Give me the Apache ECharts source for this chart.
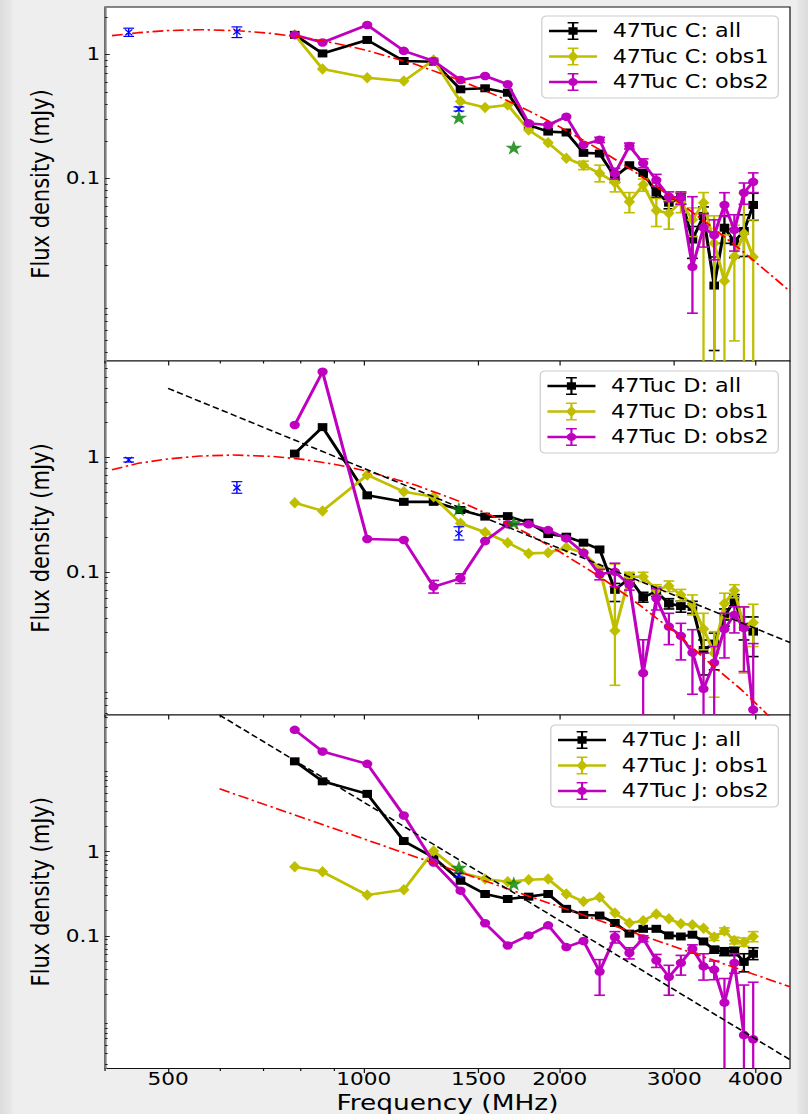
<!DOCTYPE html>
<html><head><meta charset="utf-8">
<script src="https://cdn.jsdelivr.net/npm/echarts@6/dist/echarts.min.js"></script>
<style>
html,body{margin:0;padding:0;width:808px;height:1114px;overflow:hidden;background:#ececec;}
body{background:linear-gradient(to right,#dcdcdc 0px,#e6e6e6 10px,#eeeeee 14px,#eeeeee 796px,#e4e4e4 800px,#dcdcdc 808px);}
#wrap{position:absolute;left:0;top:0;width:673px;height:1114px;transform:scaleX(1.200594);transform-origin:0 0;}
</style></head><body><div id="wrap"></div>
<script>
// ---------------- data ----------------
const FREQ = [783, 864, 1012, 1152, 1280, 1408, 1536, 1664, 1792, 1920, 2048, 2176, 2304, 2432, 2560, 2688, 2816, 2944, 3072, 3200, 3328, 3456, 3584, 3712, 3840, 3968];

const C_ALL  = [1.44, 1.02, 1.31, 0.886, 0.875, 0.524, 0.534, 0.492, 0.27, 0.239, 0.235, 0.161, 0.159, 0.103, 0.128, 0.111, 0.077, 0.0638, 0.0693, 0.0322, 0.0499, 0.0137, 0.0401, 0.031, 0.0377, 0.0612];
const C_OBS1 = [1.44, 0.764, 0.65, 0.61, 0.903, 0.417, 0.373, 0.392, 0.246, 0.194, 0.146, 0.128, 0.110, 0.0928, 0.0648, 0.089, 0.0551, 0.0524, 0.0648, 0.0464, 0.0637, 0.03, 0.0149, 0.0235, 0.036, 0.0233];
const C_OBS2 = [1.44, 1.25, 1.73, 1.07, 0.886, 0.623, 0.671, 0.575, 0.279, 0.27, 0.315, 0.187, 0.205, 0.110, 0.183, 0.133, 0.097, 0.0713, 0.070, 0.0194, 0.0401, 0.035, 0.0612, 0.0385, 0.0768, 0.094];
const C_ALL_ERR  = [null,null,null,null,null,null,null,null,null,null,null,null,null,[0.093,0.113],null,null,[0.070,0.084],[0.057,0.071],[0.062,0.076],[0.0227,0.041],[0.041,0.059],[0.0041,0.0233],[0.030,0.050],[0.023,0.039],[0.0235,0.051],[0.046,0.076]];
const C_OBS1_ERR = [null,null,null,null,null,null,null,null,null,null,null,[0.118,0.138],[0.094,0.128],[0.078,0.108],[0.053,0.077],[0.079,0.099],[0.041,0.069],[0.039,0.066],[0.053,0.077],[0.034,0.058],[0,0.077],[0,0.05],[0,0.035],[0.0049,0.042],[0,0.076],[0,0.0464]];
const C_OBS2_ERR = [null,null,null,null,null,null,null,null,null,null,null,null,[0.195,0.215],[0.099,0.121],[0.173,0.193],[0.122,0.144],[0.087,0.108],[0.065,0.078],[0.062,0.078],[0.0082,0.0713],[0.028,0.052],[0.0221,0.0464],[0.0494,0.0768],[0.026,0.051],[0.062,0.092],[0.077,0.111]];

const D_ALL  = [1.077, 1.83, 0.467, 0.41, 0.41, 0.348, 0.305, 0.308, 0.27, 0.215, 0.204, 0.181, 0.158, 0.0704, 0.0888, 0.0608, 0.068, 0.0535, 0.0508, 0.05, 0.0211, 0.024, 0.041, 0.0575, 0.0336, 0.0305];
const D_OBS1 = [0.403, 0.342, 0.702, 0.502, 0.454, 0.267, 0.223, 0.181, 0.146, 0.148, 0.164, 0.148, 0.108, 0.031, 0.0915, 0.0915, 0.0703, 0.0761, 0.0636, 0.0523, 0.0321, 0.0198, 0.0535, 0.0694, 0.0336, 0.0364];
const D_OBS2 = [1.91, 5.55, 0.195, 0.191, 0.075, 0.0886, 0.187, 0.262, 0.262, 0.233, 0.197, 0.148, 0.096, 0.101, 0.078, 0.0133, 0.0595, 0.0337, 0.028, 0.02, 0.0097, 0.0164, 0.0321, 0.0426, 0.0328, 0.0064];
const D_ALL_ERR  = [null,null,null,null,null,null,null,null,null,null,null,null,null,[0.0557,0.080],[0.082,0.096],[0.055,0.067],[0.062,0.074],[0.048,0.059],[0.045,0.056],[0.044,0.056],[0.0128,0.0258],[0.0142,0.0296],[0.034,0.048],[0.051,0.064],[0.0258,0.0409],[0.0185,0.0409]];
const D_OBS1_ERR = [null,null,null,null,null,null,null,null,null,null,null,null,null,[0.0104,0.118],[0.083,0.10],[0.083,0.10],[0.063,0.078],[0.068,0.084],[0.056,0.071],[0.0426,0.0636],[0.0212,0.044],[0.0082,0.0305],[0.0398,0.0658],[0.06,0.078],[0.0133,0.0501],[0.0226,0.0528]];
const D_OBS2_ERR = [null,null,null,null,[0.066,0.085],[0.08,0.097],null,null,null,null,null,null,[0.086,0.106],[0.075,0.120],[0.07,0.086],[0,0.0259],[0.047,0.072],[0.0235,0.044],[0.0173,0.036],[0.0087,0.0317],[0,0.0198],[0,0.0226],[0.018,0.044],[0.0297,0.0501],[0.0137,0.050],[0,0.024]];

const J_ALL  = [11.9, 6.88, 4.88, 1.34, 0.854, 0.451, 0.314, 0.274, 0.292, 0.314, 0.209, 0.177, 0.174, 0.142, 0.106, 0.121, 0.121, 0.101, 0.098, 0.103, 0.0856, 0.0682, 0.065, 0.0658, 0.0489, 0.0611];
const J_OBS1 = [0.661, 0.577, 0.305, 0.352, 1.02, 0.567, 0.473, 0.439, 0.464, 0.473, 0.314, 0.255, 0.287, 0.187, 0.142, 0.151, 0.182, 0.159, 0.139, 0.135, 0.123, 0.0966, 0.114, 0.0876, 0.084, 0.0981];
const J_OBS2 = [28.2, 15.6, 11.1, 2.7, 0.745, 0.344, 0.141, 0.0767, 0.101, 0.133, 0.0733, 0.0866, 0.0375, 0.0966, 0.0624, 0.0925, 0.051, 0.0324, 0.0475, 0.070, 0.0433, 0.0396, 0.016, 0.0475, 0.00659, 0.00587];
const J_ALL_ERR  = [null,null,null,null,null,null,null,null,null,null,null,null,null,null,null,null,null,null,null,null,null,[0.062,0.075],[0.058,0.072],[0.058,0.073],[0.0372,0.0611],[0.052,0.072]];
const J_OBS1_ERR = [null,null,null,null,null,null,null,null,null,null,null,null,null,null,null,null,null,null,null,null,null,[0.088,0.105],[0.105,0.124],[0.08,0.096],[0.075,0.094],[0.085,0.112]];
const J_OBS2_ERR = [null,null,null,null,null,null,null,null,null,null,null,null,[0.0196,0.052],[0.082,0.112],[0.053,0.072],[0.085,0.10],[0.042,0.06],[0.0196,0.0445],[0.034,0.0584],[0.062,0.078],[0.0297,0.061],[0.03,0.05],[0,0.031],[0.0358,0.0611],[0,0.0259],[0,0.028]];

// fitted model curves
const RED_C_FREQ = [410, 450, 500, 560, 640, 720, 800, 900, 1000, 1200, 1400, 1600, 1800, 2000, 2300, 2600, 3000, 3400, 3800, 4200, 4520];
const RED_C_VAL  = [1.42, 1.50, 1.56, 1.585, 1.556, 1.48, 1.38, 1.237, 1.094, 0.833, 0.624, 0.466, 0.348, 0.261, 0.172, 0.1146, 0.0686, 0.0421, 0.0265, 0.0171, 0.0123];
const RED_D_FREQ = [410, 450, 500, 560, 630, 720, 800, 900, 1000, 1200, 1400, 1600, 1800, 2000, 2300, 2600, 3000, 3400, 3800, 4100, 4520];
const RED_D_VAL  = [0.78, 0.887, 0.968, 1.026, 1.047, 1.02, 0.965, 0.872, 0.769, 0.574, 0.416, 0.297, 0.212, 0.151, 0.0925, 0.0568, 0.0304, 0.0163, 0.0096, 0.0064, 0.0036];
const DASH_D_FREQ = [500, 4520];
const DASH_D_VAL  = [3.98, 0.0245];
const RED_J_FREQ = [600, 4520];
const RED_J_VAL  = [5.6, 0.0247];
const DASH_J_FREQ = [600, 4520];
const DASH_J_VAL  = [42.3, 0.00335];

// literature points (blue crosses with error bars) and green stars
const BLUE_C_FREQ = [435, 638, 1400], BLUE_C_VAL = [1.51, 1.53, 0.363], BLUE_C_LO = [1.40, 1.37, 0.35], BLUE_C_HI = [1.63, 1.67, 0.378];
const BLUE_D_FREQ = [435, 638, 1400], BLUE_D_VAL = [0.95, 0.544, 0.218], BLUE_D_LO = [0.91, 0.487, 0.191], BLUE_D_HI = [0.99, 0.614, 0.249];
const BLUE_J_FREQ = [1400], BLUE_J_VAL = [0.527], BLUE_J_LO = [0.50], BLUE_J_HI = [0.555];
const STAR_FREQ = [1400, 1700];
const STAR_C = [0.311, 0.178];
const STAR_D = [0.355, 0.27];
const STAR_J = [0.65, 0.42];

// axes / ticks
const X_MIN = 400, X_MAX = 4520;
const X_MAJOR = [500, 1000, 1500, 2000, 3000, 4000];
const X_MINOR = [400, 600, 700, 800, 900];
const Y_MAJOR = [0.1, 1];
const Y_MINOR_MANT = [2, 3, 4, 5, 6, 7, 8, 9];
const Y_MINOR_EXP = [-3, -2, -1, 0, 1];
const NAMES_C = ['47Tuc C: all', '47Tuc C: obs1', '47Tuc C: obs2'];
const NAMES_D = ['47Tuc D: all', '47Tuc D: obs1', '47Tuc D: obs2'];
const NAMES_J = ['47Tuc J: all', '47Tuc J: obs1', '47Tuc J: obs2'];

// ---------------- style ----------------
const S = 808 / 673;
const FONT = "'DejaVu Sans', sans-serif";
const COLORS = ['#000000', '#bfbf00', '#bf00bf'];
const SYMBOLS = ['rect', 'diamond', 'circle'];
const SYM_SIZE = [[8, 8], [9.5, 11.5], [8.5, 8.5]];
const LEG_BASE = 'M0,7.8 L40,7.8 L40,10.2 L0,10.2 Z M19.1,0 L20.9,0 L20.9,18 L19.1,18 Z M15.5,0 L24.5,0 L24.5,1.6 L15.5,1.6 Z M15.5,16.4 L24.5,16.4 L24.5,18 L15.5,18 Z ';
const LEG_ICONS = [
  'path://' + LEG_BASE + 'M16.2,5.2 L23.8,5.2 L23.8,12.8 L16.2,12.8 Z',
  'path://' + LEG_BASE + 'M20,3.3 L24.6,9 L20,14.7 L15.4,9 Z',
  'path://' + LEG_BASE + 'M16,9 A4,4 0 1,1 24,9 A4,4 0 1,1 16,9 Z'
];
const STAR_PATH = 'path://M50,0 L61.8,35.4 L98.9,35.4 L69,57.3 L80.3,92.7 L50,70.8 L19.7,92.7 L31,57.3 L1.1,35.4 L38.2,35.4 Z';

const PANELS = [
  {top: 7, height: 354, ymin: 0.003375, ymax: 2.416, names: NAMES_C, vals: [C_ALL, C_OBS1, C_OBS2], errs: [C_ALL_ERR, C_OBS1_ERR, C_OBS2_ERR],
   red: [RED_C_FREQ, RED_C_VAL], dash: null, blue: [BLUE_C_FREQ, BLUE_C_VAL, BLUE_C_LO, BLUE_C_HI], star: STAR_C, legendTop: 16},
  {top: 361, height: 354, ymin: 0.005742, ymax: 6.88, names: NAMES_D, vals: [D_ALL, D_OBS1, D_OBS2], errs: [D_ALL_ERR, D_OBS1_ERR, D_OBS2_ERR],
   red: [RED_D_FREQ, RED_D_VAL], dash: [DASH_D_FREQ, DASH_D_VAL], blue: [BLUE_D_FREQ, BLUE_D_VAL, BLUE_D_LO, BLUE_D_HI], star: STAR_D, legendTop: 371},
  {top: 715, height: 355, ymin: 0.002634, ymax: 42.35, names: NAMES_J, vals: [J_ALL, J_OBS1, J_OBS2], errs: [J_ALL_ERR, J_OBS1_ERR, J_OBS2_ERR],
   red: [RED_J_FREQ, RED_J_VAL], dash: [DASH_J_FREQ, DASH_J_VAL], blue: [BLUE_J_FREQ, BLUE_J_VAL, BLUE_J_LO, BLUE_J_HI], star: STAR_J, legendTop: 725}
];

const GRID_LEFT = 105 / S;
const GRID_RIGHT = 673 - 790 / S;

function minorTicks() {
  const out = [];
  Y_MINOR_EXP.forEach(e => Y_MINOR_MANT.forEach(m => out.push(Number((m * Math.pow(10, e)).toPrecision(3)))));
  return out;
}
const Y_MINOR = minorTicks();

function pairs(xs, ys) { return xs.map((x, i) => [x, ys[i]]); }

function errRender(color) {
  return function (params, api) {
    const cs = params.coordSys;
    const top = cs.y, bot = cs.y + cs.height;
    const f = api.value(0), lo = api.value(1), hi = api.value(2);
    const ph = api.coord([f, hi]);
    const x = ph[0], yHi = ph[1];
    const yLo = lo > 0 ? api.coord([f, lo])[1] : bot + 100;
    const y1 = Math.max(Math.min(yHi, bot), top), y2 = Math.min(Math.max(yLo, top), bot);
    const ch = [];
    if (y2 > y1) ch.push({type: 'line', shape: {x1: x, y1: y1, x2: x, y2: y2}, style: {stroke: color, lineWidth: 1.9}});
    [yHi, yLo].forEach(y => {
      if (y >= top && y <= bot) ch.push({type: 'line', shape: {x1: x - 4.5, y1: y, x2: x + 4.5, y2: y}, style: {stroke: color, lineWidth: 1.6}});
    });
    return {type: 'group', children: ch};
  };
}

function blueRender(params, api) {
  const f = api.value(0), v = api.value(1), lo = api.value(2), hi = api.value(3);
  const p = api.coord([f, v]), pl = api.coord([f, lo]), ph = api.coord([f, hi]);
  const c = '#0000ff', st = {stroke: c, lineWidth: 1.2};
  return {type: 'group', children: [
    {type: 'line', shape: {x1: p[0], y1: ph[1], x2: p[0], y2: pl[1]}, style: st},
    {type: 'line', shape: {x1: p[0] - 4.5, y1: ph[1], x2: p[0] + 4.5, y2: ph[1]}, style: st},
    {type: 'line', shape: {x1: p[0] - 4.5, y1: pl[1], x2: p[0] + 4.5, y2: pl[1]}, style: st},
    {type: 'line', shape: {x1: p[0] - 3, y1: p[1] - 3, x2: p[0] + 3, y2: p[1] + 3}, style: st},
    {type: 'line', shape: {x1: p[0] - 3, y1: p[1] + 3, x2: p[0] + 3, y2: p[1] - 3}, style: st}
  ]};
}

const grid = [], xAxis = [], yAxis = [], series = [], legend = [];

PANELS.forEach((P, p) => {
  grid.push({left: GRID_LEFT, right: GRID_RIGHT, top: P.top, height: P.height, show: true, backgroundColor: '#ffffff', borderColor: '#111111', borderWidth: 1, z: -1});
  const xBase = {type: 'log', gridIndex: p, position: 'bottom', min: X_MIN, max: X_MAX, splitLine: {show: false}, axisLine: {show: false, onZero: false}};
  xAxis.push(Object.assign({}, xBase, {
    axisTick: {show: true, inside: false, length: 4.5, customValues: X_MAJOR, lineStyle: {color: '#111', width: 1}},
    axisLabel: {show: p === 2, customValues: X_MAJOR, fontFamily: FONT, fontSize: 18, lineHeight: 15, color: '#000', margin: 3, formatter: v => String(Math.round(v))},
    name: p === 2 ? 'Frequency (MHz)' : '', nameLocation: 'middle', nameGap: 24,
    nameTextStyle: {fontFamily: FONT, fontSize: 22, lineHeight: 19, color: '#000'}
  }));
  xAxis.push(Object.assign({}, xBase, {
    axisTick: {show: true, inside: false, length: 2.5, customValues: X_MINOR, lineStyle: {color: '#111', width: 1}},
    axisLabel: {show: false}
  }));
  const yBase = {type: 'log', gridIndex: p, position: 'left', min: P.ymin, max: P.ymax, splitLine: {show: false}};
  yAxis.push(Object.assign({}, yBase, {
    axisLine: {show: true, onZero: false, lineStyle: {color: '#7f7f7f', width: 1.6}},
    axisTick: {show: true, inside: true, length: 4, customValues: Y_MAJOR, lineStyle: {color: '#222', width: 1}},
    axisLabel: {show: true, customValues: Y_MAJOR, fontFamily: FONT, fontSize: 18, color: '#000', margin: 4,
      formatter: v => (v < 1 ? v.toFixed(1) : String(Math.round(v)))},
    name: 'Flux density (mJy)', nameLocation: 'middle', nameGap: 30,
    nameTextStyle: {fontFamily: FONT, fontSize: 21, color: '#000'}
  }));
  yAxis.push(Object.assign({}, yBase, {
    axisLine: {show: false, onZero: false},
    axisTick: {show: true, inside: true, length: 2.2, customValues: Y_MINOR, lineStyle: {color: '#222', width: 1}},
    axisLabel: {show: false}
  }));
  const xi = 2 * p, yi = 2 * p;

  // data series with error bars
  P.vals.forEach((vals, k) => {
    const errData = [];
    P.errs[k].forEach((e, i) => { if (e) errData.push([FREQ[i], e[0], e[1]]); });
    series.push({type: 'custom', name: P.names[k] + ' err', xAxisIndex: xi, yAxisIndex: yi, silent: true,
      renderItem: errRender(COLORS[k]), data: errData, encode: {x: 0, y: [1, 2]}, z: 2 + 2 * k});
    series.push({type: 'line', name: P.names[k], xAxisIndex: xi, yAxisIndex: yi, data: pairs(FREQ, vals),
      symbol: SYMBOLS[k], symbolSize: SYM_SIZE[k], showAllSymbol: true,
      lineStyle: {color: COLORS[k], width: 2.6}, itemStyle: {color: COLORS[k]}, z: 3 + 2 * k, silent: true});
  });
  // model lines
  series.push({type: 'line', name: 'model ' + p, xAxisIndex: xi, yAxisIndex: yi, data: pairs(P.red[0], P.red[1]),
    showSymbol: false, symbol: 'none', lineStyle: {color: '#ff0000', width: 1.6, type: [9, 3, 2, 3]}, z: 9, silent: true, clip: true});
  if (P.dash) series.push({type: 'line', name: 'powerlaw ' + p, xAxisIndex: xi, yAxisIndex: yi, data: pairs(P.dash[0], P.dash[1]),
    showSymbol: false, symbol: 'none', lineStyle: {color: '#000000', width: 1.5, type: [5.5, 2.8]}, z: 9, silent: true, clip: true});
  // literature points
  const B = P.blue;
  series.push({type: 'custom', name: 'lit ' + p, xAxisIndex: xi, yAxisIndex: yi, renderItem: blueRender, silent: true,
    data: B[0].map((f, i) => [f, B[1][i], B[2][i], B[3][i]]), encode: {x: 0, y: [1, 2, 3]}, z: 10});
  series.push({type: 'scatter', name: 'star ' + p, xAxisIndex: xi, yAxisIndex: yi, data: pairs(STAR_FREQ, P.star),
    symbol: STAR_PATH, symbolSize: [14, 14.5], itemStyle: {color: '#008000'}, z: 11, silent: true});

  legend.push({
    orient: 'vertical', right: 673 - 778.3 / S, top: P.legendTop,
    itemWidth: 40, itemHeight: 18, itemGap: 5.5, padding: [5, 8, 6, 6],
    backgroundColor: 'rgba(255,255,255,0.85)', borderColor: '#cccccc', borderWidth: 1, borderRadius: 4,
    textStyle: {fontFamily: FONT, fontSize: 18.6, color: '#000', lineHeight: 20, padding: [0, 0, 0, 8]},
    itemStyle: {borderWidth: 0}, selectedMode: false,
    data: P.names.map((n, k) => ({name: n, icon: LEG_ICONS[k]}))
  });
});

const chart = echarts.init(document.getElementById('wrap'), null, {renderer: 'svg'});
chart.setOption({animation: false, backgroundColor: 'transparent', grid, xAxis, yAxis, series, legend});
</script></body></html>
